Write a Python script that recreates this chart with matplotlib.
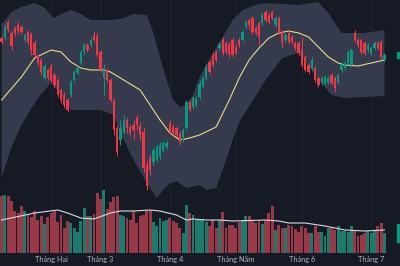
import numpy as np
import matplotlib
matplotlib.use("Agg")
import matplotlib.pyplot as plt
from matplotlib.patches import Rectangle
import matplotlib.transforms as mtransforms

# ---------------- data ----------------
opens = [262,263,278,267,272,275,273,260,268,266,257,244,240,222,230,234,225,220,210,205,
         200,205,220,227,237,248,255,255,264,264,248,222,230,220,200,172,160,168,180,173,
         175,182,174,168,135,142,138,140,143,150,153,177,173,172,166,160,172,198,193,195,
         203,214,222,238,245,248,252,260,257,256,260,253,260,260,273,280,282,272,277,277,
         288,285,288,275,282,268,260,267,263,257,257,250,243,235,232,232,222,217,217,217,
         225,222,218,230,232,237,235,267,260,260,257,250,247,252,257,258,240]
closes = [258,273,270,254,267,269,268,265,258,250,245,237,228,234,222,220,215,205,200,195,
          190,218,228,232,248,255,250,260,260,245,230,232,220,200,170,148,172,180,172,167,
          170,175,165,132,114,130,150,153,155,157,157,168,167,165,158,170,198,190,202,202,
          216,222,233,228,235,240,256,247,248,246,245,247,255,268,278,275,268,267,263,285,
          280,278,282,282,268,258,265,258,258,252,247,235,230,228,240,220,215,222,223,222,
          217,212,225,236,237,248,250,260,255,248,247,255,252,257,252,243,245]
highs = [265,276,280,269,274,278,275,267,270,268,260,246,242,236,232,237,228,222,212,208,
         202,220,230,234,250,257,257,262,269,267,250,236,232,222,202,175,180,185,182,175,
         180,185,178,172,140,145,152,156,158,159,160,180,176,174,169,172,200,200,204,204,
         220,224,236,240,248,250,258,263,259,258,263,256,262,270,280,282,284,274,279,287,
         290,287,290,284,284,270,267,269,265,259,259,263,245,237,243,234,224,224,225,224,
         227,224,227,238,239,250,252,270,262,262,259,257,254,259,259,260,247]
lows = [256,260,268,250,264,267,266,258,255,245,243,234,225,220,220,218,212,203,197,192,
        188,203,218,225,235,246,248,253,258,243,228,205,218,198,165,144,155,166,167,164,
        160,170,160,128,110,125,135,138,141,148,151,166,165,163,155,158,170,188,191,193,
        201,212,220,226,233,238,250,245,246,242,243,245,252,258,271,272,266,265,255,275,
        278,276,280,273,266,252,258,256,256,250,245,233,228,226,230,218,213,215,215,216,
        215,208,216,228,230,235,233,258,253,246,245,248,245,250,250,241,238]
volumes = [57,58,57,52,42,40,47,42,38,36,42,33,37,29,36,40,42,31,38,25,
           32,30,25,21,32,45,37,37,39,60,54,63,44,51,56,57,38,37,35,33,
           42,30,37,38,42,43,31,27,35,32,33,35,32,30,25,20,48,40,38,33,
           33,33,31,27,33,25,33,41,25,28,28,25,31,33,37,37,33,30,32,29,
           33,40,47,23,28,25,25,28,27,24,21,27,25,20,20,27,21,21,17,25,
           25,23,27,22,22,21,27,22,17,18,20,22,20,22,27,30,20]

# Bollinger band (at sample candles)
bb_upper_idx = [0,3,6,10,13,15,16,18,21,24,27,34,37,40,44,46,48,50,52,54,56,58,60,64,67,70,73,77,80,90,96,99,103,110,116]
bb_upper_val = [276,288,293,297,292,285,282,286,290,286,280,280,282,286,285,267,243,220,200,193,195,205,223,247,263,280,290,295,297,295,298,287,267,267,270]
bb_lower_idx = [0,3,6,9,12,15,18,21,24,30,34,36,40,44,47,49,51,53,56,60,62,65,68,70,72,77,80,85,90,95,100,104,116]
bb_lower_val = [122,153,175,192,206,217,206,190,190,190,185,167,140,117,102,110,117,119,112,115,110,112,140,160,178,204,220,242,247,225,205,202,204]
bb_mid_idx = [0,6,10,15,18,21,24,27,31,33,36,40,42,44,48,51,54,57,60,65,69,72,75,78,81,84,87,90,93,96,99,102,104,108,112,116]
bb_mid_val = [200,223,242,250,248,238,232,230,230,228,222,214,210,200,180,167,160,162,165,173,200,222,240,252,262,267,269,267,263,253,243,237,235,234,237,240]

# volume moving average
vma_idx = [0,10,17,20,24,28,33,36,40,45,48,53,56,58,62,66,70,80,84,87,92,98,104,110,116]
vma_val = [33,40,43,40,35,34,40,42,42,43,42,38,33,34,33,33,32,33,32,30,30,27,23,22,23]

month_idx = [15, 30, 51, 71, 91, 112]
month_labels = ["Tháng Hai", "Tháng 3", "Tháng 4", "Tháng Năm", "Tháng 6", "Tháng 7"]

# ---------------- style ----------------
BG = "#161a25"
UP = "#089981"
DOWN = "#f23645"
UP_V = "#1f7a6d"
DOWN_V = "#973946"
BAND = "#353b4c"
MA = "#e8d98a"
TXT = "#b2b5be"
GRID = "#1f2331"

plt.rcParams['font.family'] = ['Lato', 'DejaVu Sans']

o = np.array(opens, float); c = np.array(closes, float)
h = np.array(highs, float); l = np.array(lows, float)
v = np.array(volumes, float)
idx = np.arange(len(o))
up = c >= o
cols = np.where(up, UP, DOWN)
vcols = np.where(up, UP_V, DOWN_V)

W, H = 400, 266
fig = plt.figure(figsize=(W / 100, H / 100), dpi=100, facecolor=BG)
xlim = (-1.6 / 3.3, (W - 1.6) / 3.3)

# volume pane
axv = fig.add_axes([0, 13 / H, 1, 253 / H])
axv.set_facecolor(BG)
axv.set_xlim(*xlim)
axv.set_ylim(0, 253)
for s in axv.spines.values():
    s.set_visible(False)
axv.set_yticks([])
axv.set_xticks(month_idx, month_labels)
axv.tick_params(axis='x', length=0, pad=2.5, labelsize=5.3, labelcolor=TXT)
axv.grid(axis='x', color=GRID, lw=0.8)
axv.set_axisbelow(True)
axv.bar(idx, v, width=0.88, color=vcols, linewidth=0, zorder=2)
axv.plot(vma_idx, vma_val, color="#d8dadf", lw=0.8, zorder=3)
tv = mtransforms.blended_transform_factory(axv.transAxes, axv.transData)
axv.add_patch(Rectangle((397 / W, v[-1] - 9), 3 / W, 18, transform=tv, color=UP, zorder=4, clip_on=False))

# price pane
axp = fig.add_axes([0, 0, 1, 1])
axp.set_facecolor("none")
axp.set_xlim(*xlim)
axp.set_ylim(34, 300)
axp.axis("off")
axp.fill(np.r_[bb_upper_idx, bb_lower_idx[::-1]], np.r_[bb_upper_val, bb_lower_val[::-1]],
         color=BAND, lw=0, zorder=1)
axp.plot(bb_mid_idx, bb_mid_val, color=MA, lw=0.8, zorder=2)
axp.vlines(idx, l, h, color=cols, lw=0.7, zorder=3)
body = np.maximum(np.abs(c - o), 0.8)
axp.bar(idx, body, bottom=np.minimum(o, c), width=0.72, color=cols, linewidth=0, zorder=4)
tp = mtransforms.blended_transform_factory(axp.transAxes, axp.transData)
axp.add_patch(Rectangle((397 / W, c[-1] - 3), 3 / W, 6, transform=tp, color=UP, zorder=5, clip_on=False))

fig.savefig("out.png", dpi=100, facecolor=BG)
